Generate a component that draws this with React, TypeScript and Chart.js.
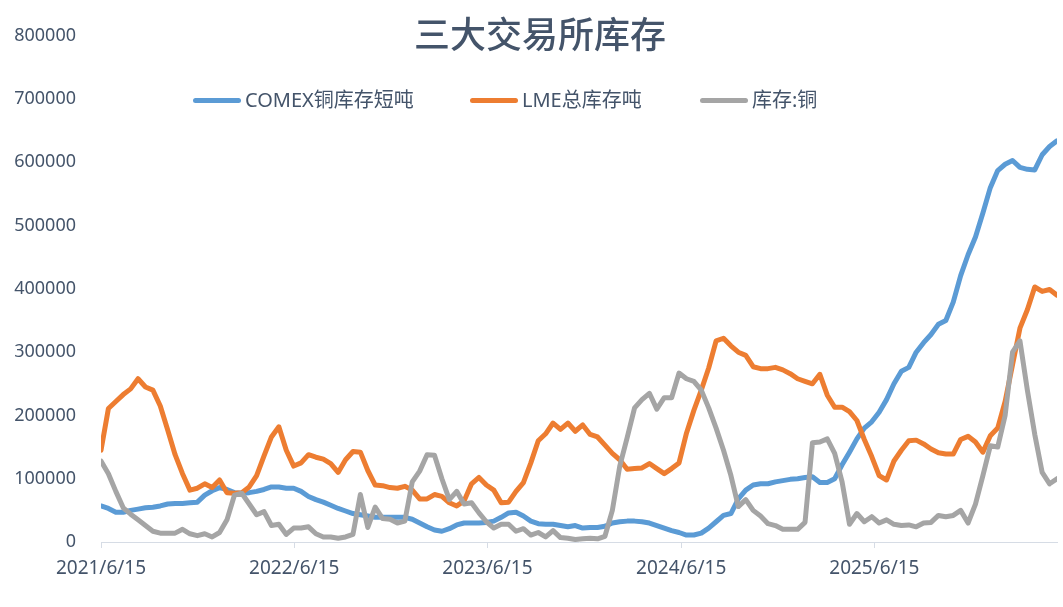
import React, { useEffect, useRef } from "react";
import { Chart, registerables } from "chart.js";

Chart.register(...registerables);

// Sampling: one reading every 14 days starting 2021/6/15
const startDate = "2021/6/15";
const stepDays = 14;

// Year tick labels and their day offsets from the start date
const tickLabels = ["2021/6/15", "2022/6/15", "2023/6/15", "2024/6/15", "2025/6/15"];
const tickDays = [0, 365, 730, 1096, 1461];

const seriesNames = ["COMEX铜库存短吨", "LME总库存吨", "库存:铜"];

const comexStock = [
  57000, 53000, 47000, 47000, 50000, 52000, 54000, 55000, 57000, 60000,
  61000, 61000, 62000, 63000, 74000, 81000, 86000, 83000, 78000, 77000,
  78000, 80000, 83000, 87000, 87000, 85000, 85000, 80000, 72000, 67000,
  63000, 58000, 53000, 49000, 45000, 43000, 41000, 39000, 39000, 39000,
  39000, 39000, 36000, 30000, 24000, 19000, 17000, 21000, 27000, 30000,
  30000, 30000, 31000, 33000, 39000, 46000, 47000, 41000, 33000, 29000,
  28000, 28000, 26000, 24000, 26000, 22000, 23000, 23000, 25000, 30000,
  32000, 33000, 33000, 32000, 30000, 26000, 22000, 18000, 15000, 11000,
  11000, 14000, 22000, 32000, 42000, 45000, 68000, 82000, 90000, 92000,
  92000, 95000, 97000, 99000, 100000, 102000, 103000, 94000, 94000, 100000,
  122000, 142000, 163000, 180000, 190000, 205000, 225000, 250000, 270000, 276000,
  300000, 315000, 328000, 344000, 350000, 379000, 421000, 454000, 482000, 520000,
  560000, 587000, 597000, 603000, 592000, 589000, 588000, 612000, 625000, 634000,
];

const lmeStock = [
  145000, 211000, 222000, 233000, 242000, 258000, 245000, 240000, 215000, 177000,
  138000, 108000, 82000, 85000, 92000, 86000, 98000, 78000, 77000, 78000,
  87000, 105000, 136000, 166000, 182000, 145000, 120000, 125000, 138000, 134000,
  131000, 124000, 110000, 130000, 143000, 142000, 113000, 90000, 89000, 86000,
  85000, 88000, 82000, 68000, 68000, 75000, 72000, 62000, 57000, 65000,
  92000, 102000, 90000, 82000, 62000, 63000, 80000, 94000, 125000, 160000,
  171000, 188000, 178000, 188000, 175000, 185000, 170000, 166000, 153000, 140000,
  130000, 115000, 116000, 117000, 124000, 116000, 108000, 116000, 125000, 172000,
  208000, 240000, 275000, 318000, 322000, 310000, 300000, 295000, 277000, 274000,
  274000, 276000, 272000, 266000, 258000, 254000, 250000, 265000, 232000, 213000,
  213000, 206000, 192000, 162000, 135000, 105000, 98000, 128000, 145000, 160000,
  161000, 155000, 147000, 141000, 139000, 139000, 162000, 167000, 158000, 142000,
  168000, 180000, 222000, 280000, 338000, 367000, 403000, 396000, 399000, 390000,
];

const copperStock = [
  128000, 108000, 80000, 54000, 44000, 35000, 26000, 17000, 14000, 14000,
  14000, 20000, 13000, 10000, 13000, 8000, 15000, 35000, 74000, 77000,
  60000, 43000, 48000, 26000, 28000, 12000, 22000, 22000, 24000, 13000,
  8000, 8000, 6000, 8000, 12000, 75000, 23000, 55000, 37000, 36000,
  30000, 33000, 95000, 112000, 138000, 137000, 100000, 67000, 80000, 60000,
  62000, 46000, 32000, 22000, 28000, 28000, 17000, 21000, 11000, 15000,
  8000, 18000, 7000, 6000, 4000, 5000, 6000, 5000, 9000, 50000,
  120000, 165000, 212000, 225000, 235000, 210000, 228000, 228000, 267000, 258000,
  254000, 240000, 212000, 180000, 145000, 105000, 56000, 67000, 50000, 41000,
  29000, 26000, 20000, 20000, 20000, 31000, 157000, 158000, 163000, 140000,
  95000, 28000, 45000, 32000, 40000, 30000, 35000, 28000, 26000, 27000,
  24000, 30000, 31000, 42000, 40000, 42000, 50000, 30000, 60000, 105000,
  152000, 150000, 200000, 300000, 318000, 240000, 170000, 110000, 92000, 100000,
];

const seriesColors = ["#5B9BD5", "#ED7D31", "#A5A5A5"];
const textColor = "#44546A";

const legendItems = [
  { name: seriesNames[0], color: seriesColors[0], left: 193 },
  { name: seriesNames[1], color: seriesColors[1], left: 470 },
  { name: seriesNames[2], color: seriesColors[2], left: 700 },
];

export default function App() {
  const canvasRef = useRef<HTMLCanvasElement | null>(null);

  useEffect(() => {
    const canvas = canvasRef.current;
    if (!canvas) return;
    const days = comexStock.map((_, i) => i * stepDays);
    const toPoints = (arr: number[]) => arr.map((v, i) => ({ x: days[i], y: v }));
    const all = [comexStock, lmeStock, copperStock];
    const chart = new Chart(canvas, {
      type: "line",
      data: {
        datasets: all.map((arr, k) => ({
          label: seriesNames[k],
          data: toPoints(arr),
          borderColor: seriesColors[k],
          backgroundColor: seriesColors[k],
          borderWidth: 5,
          pointRadius: 0,
          tension: 0,
          borderCapStyle: "round" as const,
          borderJoinStyle: "round" as const,
          order: 3 - k,
        })),
      },
      options: {
        responsive: false,
        animation: false,
        layout: { padding: { top: 31, right: 6, left: 0, bottom: 0 } },
        plugins: {
          legend: { display: false },
          title: { display: false },
          tooltip: { enabled: false },
        },
        scales: {
          x: {
            type: "linear",
            min: 0,
            max: days[days.length - 1],
            afterBuildTicks: (scale: any) => {
              scale.ticks = tickDays.map((v) => ({ value: v }));
            },
            afterFit: (scale: any) => {
              scale.height = 65;
            },
            ticks: {
              autoSkip: false,
              maxRotation: 0,
              padding: 9,
              color: textColor,
              font: { family: "'Noto Sans', sans-serif", size: 19 },
              callback: (value: any) => {
                const idx = tickDays.indexOf(Number(value));
                return idx >= 0 ? tickLabels[idx] : "";
              },
            },
            grid: {
              display: true,
              drawOnChartArea: false,
              drawTicks: true,
              tickLength: 6,
              color: "#D6DCE5",
            },
            border: { display: true, color: "#D6DCE5", width: 1 },
          },
          y: {
            min: 0,
            max: 800000,
            afterFit: (scale: any) => {
              scale.width = 101;
            },
            ticks: {
              stepSize: 100000,
              padding: 25,
              color: textColor,
              font: { family: "'Noto Sans', sans-serif", size: 18 },
              callback: (value: any) => String(value),
            },
            grid: { display: false, drawTicks: false },
            border: { display: false },
          },
        },
      },
    });
    return () => chart.destroy();
  }, []);

  return (
    <div
      style={{
        position: "fixed",
        left: 0,
        top: 0,
        width: 1063,
        height: 607,
        background: "#FFFFFF",
        overflow: "hidden",
      }}
      data-start={startDate}
    >
      <canvas ref={canvasRef} width={1063} height={607} style={{ position: "absolute", left: 0, top: 0 }} />
      <div
        style={{
          position: "absolute",
          left: 0,
          width: 1080,
          top: 13,
          textAlign: "center",
          fontFamily: "'Noto Sans CJK SC', sans-serif",
          fontSize: 36,
          lineHeight: "38px",
          color: textColor,
          fontWeight: 500,
        }}
      >
        三大交易所库存
      </div>
      {legendItems.map((it) => (
        <div
          key={it.name}
          style={{
            position: "absolute",
            left: it.left,
            top: 88,
            height: 24,
            display: "flex",
            alignItems: "center",
            whiteSpace: "nowrap",
          }}
        >
          <div
            style={{
              width: 48,
              height: 5,
              borderRadius: 3,
              background: it.color,
              marginRight: 4,
            }}
          />
          <span
            style={{
              fontFamily: "'Noto Sans', 'Noto Sans CJK SC', sans-serif",
              fontSize: 20,
              lineHeight: "24px",
              color: textColor,
            }}
          >
            {it.name}
          </span>
        </div>
      ))}
    </div>
  );
}
